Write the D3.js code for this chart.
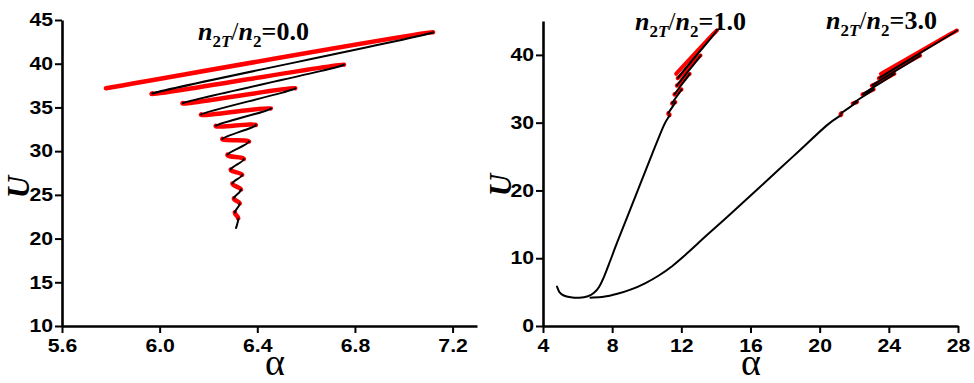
<!DOCTYPE html>
<html>
<head>
<meta charset="utf-8">
<script src="https://cdn.jsdelivr.net/npm/d3@7"></script>
<style>
body { margin: 0; background: #fff; }
svg { display: block; }
.axis text { font-family: "Liberation Sans", Arial, sans-serif; font-weight: bold; font-size: 18px; fill: #000; }
.axis path, .axis line { stroke: #000; }
.ttl { font-family: "Liberation Serif", "Times New Roman", serif; font-weight: bold; fill: #000; }
</style>
</head>
<body>
<div id="chart"></div>
<script>
// left panel: n2T/n2 = 0.0, turning points of the snaking curve (bottom -> top)
const leftAlpha = [6.313, 6.322, 6.308, 6.328, 6.304, 6.333, 6.298, 6.338, 6.291, 6.345, 6.278,
                   6.366, 6.257, 6.394, 6.230, 6.455, 6.170, 6.555, 6.095, 6.755, 5.970, 7.120, 5.780];
const leftU = [21.2, 22.3, 23.0, 24.0, 24.6, 25.6, 26.3, 27.3, 27.9, 29.1, 29.6,
               31.1, 31.4, 33.0, 32.9, 34.9, 34.2, 37.2, 35.5, 39.9, 36.6, 43.6, 37.2];
// s = stable (black), u = unstable (red), one entry per segment
const leftBranch = ["s", "u", "s", "u", "s", "u", "s", "u", "s", "u", "s",
                    "u", "s", "u", "s", "u", "s", "u", "s", "u", "s", "u"];

// right panel: n2T/n2 = 1.0
const n1Alpha = [4.81, 4.95, 5.20, 5.60, 6.10, 6.60, 6.95, 7.25, 7.55, 7.90, 8.30, 9.48, 10.30, 10.99,
                 11.32, 11.25, 11.65, 11.47, 12.01, 11.61, 12.48, 11.75, 13.11, 11.80, 14.06, 11.70];
const n1U = [5.82, 5.00, 4.50, 4.25, 4.18, 4.40, 4.90, 5.80, 7.40, 9.70, 12.4, 20.0, 25.3, 29.6,
             31.1, 31.4, 33.0, 32.9, 34.9, 34.2, 37.2, 35.5, 39.9, 36.6, 43.6, 37.2];
const n1Branch = ["s", "s", "s", "s", "s", "s", "s", "s", "s", "s", "s", "s", "s",
                  "s", "u", "s", "u", "s", "u", "s", "u", "s", "u", "s", "u"];

// right panel: n2T/n2 = 3.0
const n3Alpha = [6.75, 7.50, 8.30, 9.10, 9.90, 10.70, 11.50, 12.30, 13.50, 15.00, 16.50, 18.50, 20.41,
                 21.22, 21.25, 22.15, 21.94, 23.12, 22.50, 24.32, 23.04, 25.81, 23.45, 27.94, 23.54];
const n3U = [4.18, 4.30, 4.75, 5.40, 6.30, 7.45, 8.90, 10.65, 13.45, 16.90, 20.40, 25.10, 29.6,
             31.1, 31.4, 33.0, 32.9, 34.9, 34.2, 37.2, 35.5, 39.9, 36.6, 43.6, 37.2];
const n3Branch = ["s", "s", "s", "s", "s", "s", "s", "s", "s", "s", "s", "s",
                  "s", "u", "s", "u", "s", "u", "s", "u", "s", "u", "s", "u"];

const ratios = ["0.0", "1.0", "3.0"];

const leftXMajor = [5.6, 6.0, 6.4, 6.8, 7.2];
const leftXMinor = [5.8, 6.2, 6.6, 7.0];
const leftYMajor = [10, 15, 20, 25, 30, 35, 40, 45];
const leftYMinor = [12.5, 17.5, 22.5, 27.5, 32.5, 37.5, 42.5];
const rightXMajor = [4, 8, 12, 16, 20, 24, 28];
const rightXMinor = [6, 10, 14, 18, 22, 26];
const rightYMajor = [0, 10, 20, 30, 40];
const rightYMinor = [5, 15, 25, 35, 45];

const width = 974, height = 383;
const stretch = 1.18;

const svg = d3.select("#chart").append("svg")
    .attr("width", width)
    .attr("height", height);

const xL = d3.scaleLinear().domain([5.6, 7.3]).range([62, 477]);
const yL = d3.scaleLinear().domain([10, 45]).range([326, 20]);
const xR = d3.scaleLinear().domain([4, 28]).range([543, 958]);
const yR = d3.scaleLinear().domain([0, 45]).range([326, 21]);

function drawAxes(x, y, xMajor, xMinor, yMajor, yMinor, fmt) {
    const y0 = y.range()[0], x0 = x.range()[0];

    const gx = svg.append("g").attr("class", "axis").attr("transform", `translate(0,${y0})`);
    gx.call(d3.axisBottom(x).tickValues(xMinor).tickSize(4).tickSizeOuter(0).tickFormat(""));
    gx.call(d3.axisBottom(x).tickValues(xMajor).tickSize(7).tickSizeOuter(0).tickPadding(6).tickFormat(fmt));
    gx.selectAll("path").attr("stroke-width", 2.6);
    gx.selectAll("line").attr("stroke-width", 2);
    gx.selectAll("text").attr("transform", `scale(${stretch},1)`);

    const gy = svg.append("g").attr("class", "axis").attr("transform", `translate(${x0},0)`);
    gy.call(d3.axisLeft(y).tickValues(yMinor).tickSize(4).tickSizeOuter(0).tickFormat(""));
    gy.call(d3.axisLeft(y).tickValues(yMajor).tickSize(7).tickSizeOuter(0).tickPadding(2).tickFormat(d3.format("d")));
    gy.selectAll("path").attr("stroke-width", 2.6);
    gy.selectAll("line").attr("stroke-width", 2);
    gy.selectAll("text")
        .attr("x", -9 / stretch)
        .attr("transform", `scale(${stretch},1)`);
}

// smooth curve through the points, split by branch colour
function drawCurve(x, y, alpha, U, branch, redWidth) {
    const pts = alpha.map((a, i) => [x(a), y(U[i])]);
    const n = pts.length;
    const red = d3.path(), black = d3.path();
    for (let i = 0; i < n - 1; i++) {
        const p0 = pts[Math.max(i - 1, 0)], p1 = pts[i], p2 = pts[i + 1], p3 = pts[Math.min(i + 2, n - 1)];
        const c1 = [p1[0] + (p2[0] - p0[0]) / 6, p1[1] + (p2[1] - p0[1]) / 6];
        const c2 = [p2[0] - (p3[0] - p1[0]) / 6, p2[1] - (p3[1] - p1[1]) / 6];
        const p = branch[i] === "u" ? red : black;
        p.moveTo(p1[0], p1[1]);
        p.bezierCurveTo(c1[0], c1[1], c2[0], c2[1], p2[0], p2[1]);
    }
    svg.append("path").attr("d", red.toString())
        .attr("fill", "none").attr("stroke", "#ff0000")
        .attr("stroke-width", redWidth).attr("stroke-linecap", "round");
    svg.append("path").attr("d", black.toString())
        .attr("fill", "none").attr("stroke", "#000")
        .attr("stroke-width", 2).attr("stroke-linecap", "round");
}

function title(x, y, value) {
    const t = svg.append("text").attr("class", "ttl").attr("x", x).attr("y", y).style("font-size", "26px");
    t.append("tspan").style("font-style", "italic").text("n");
    t.append("tspan").attr("dy", 7).style("font-size", "17px").text("2");
    t.append("tspan").style("font-size", "17px").style("font-style", "italic").text("T");
    t.append("tspan").attr("dy", -7).style("font-weight", "normal").text("/");
    t.append("tspan").style("font-style", "italic").text("n");
    t.append("tspan").attr("dy", 7).style("font-size", "17px").text("2");
    t.append("tspan").attr("dy", -7).text("=" + value);
}

function axisLabels(cx, cy) {
    svg.append("text").attr("class", "ttl")
        .attr("x", cx).attr("y", 375)
        .attr("text-anchor", "middle")
        .style("font-weight", "normal")
        .style("font-size", "38px")
        .text("α");
    svg.append("text").attr("class", "ttl")
        .attr("transform", `translate(${cy[0]},${cy[1]}) rotate(-90)`)
        .attr("text-anchor", "middle")
        .attr("dy", "0.35em")
        .style("font-style", "italic")
        .style("font-size", "31px")
        .text("U");
}

drawAxes(xL, yL, leftXMajor, leftXMinor, leftYMajor, leftYMinor, d3.format(".1f"));
drawAxes(xR, yR, rightXMajor, rightXMinor, rightYMajor, rightYMinor, d3.format("d"));

drawCurve(xL, yL, leftAlpha, leftU, leftBranch, 4.5);
drawCurve(xR, yR, n1Alpha, n1U, n1Branch, 4);
drawCurve(xR, yR, n3Alpha, n3U, n3Branch, 4);

title(198, 40, ratios[0]);
title(635, 30, ratios[1]);
title(826, 29, ratios[2]);

axisLabels(275, [18, 187]);
axisLabels(751, [500, 185]);
</script>
</body>
</html>
